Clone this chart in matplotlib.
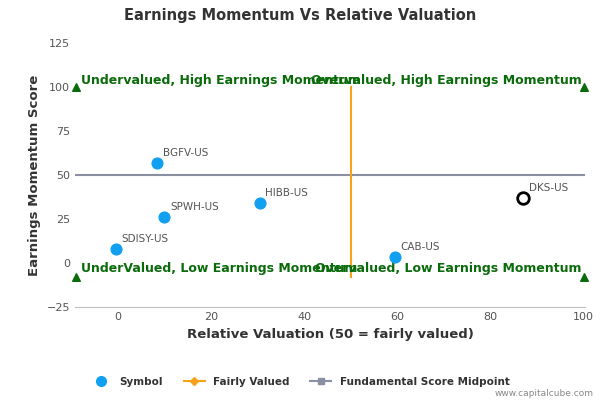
import matplotlib.pyplot as plt
from matplotlib.lines import Line2D

# data
symbols = ["BGFV-US", "SPWH-US", "HIBB-US", "SDISY-US", "CAB-US", "DKS-US"]
valuation = [8.5, 10, 30.5, -0.5, 59.5, 87]
momentum = [57, 26.5, 34, 8, 3.5, 37]
highlight = "DKS-US"
corner_x = [-9, 100, -9, 100]
corner_y = [100, 100, -8, -8]
fair_x = [50, 50]
fair_y = [-8, 100]
mid_x = [-9, 100]
mid_y = [50, 50]
xticks = [0, 20, 40, 60, 80, 100]
yticks = [-25, 0, 25, 50, 75, 100, 125]

fig = plt.figure(figsize=(6, 4), dpi=100)
ax = fig.add_axes([0.125, 0.232, 0.85, 0.66])

ax.plot(mid_x, mid_y, color="#8a8fa3", lw=1.5, zorder=1)
ax.plot(fair_x, fair_y, color="#f7a21b", lw=1.5, zorder=1)
ax.scatter(corner_x, corner_y, marker="^", color="#0a6b0a", s=30, zorder=3, clip_on=False)

for s, x, y in zip(symbols, valuation, momentum):
    if s == highlight:
        ax.scatter(x, y, s=70, facecolor="white", edgecolor="black", lw=2, zorder=4)
    else:
        ax.scatter(x, y, s=60, color="#11a0ef", zorder=4)
    ax.annotate(s, (x, y), xytext=(4, 5), textcoords="offset points",
                fontsize=7.5, color="#555555")

green = "#0a6b0a"
ax.text(-8, 102, "Undervalued, High Earnings Momentum", color=green, fontsize=9, fontweight="bold")
ax.text(99.5, 102, "Overvalued, High Earnings Momentum", color=green, fontsize=9, fontweight="bold", ha="right")
ax.text(-8, -5, "UnderValued, Low Earnings Momentum", color=green, fontsize=9, fontweight="bold")
ax.text(99.5, -5, "Overvalued, Low Earnings Momentum", color=green, fontsize=9, fontweight="bold", ha="right")

ax.set_xlim(-9.2, 100.3)
ax.set_ylim(-25, 125)
ax.set_xticks(xticks)
ax.set_yticks(yticks)
ax.tick_params(labelsize=8, colors="#555555", length=0)
for sp in ["top", "right", "left"]:
    ax.spines[sp].set_visible(False)
ax.spines["bottom"].set_color("#c0c0c0")
ax.set_xlabel("Relative Valuation (50 = fairly valued)", fontsize=9.5, fontweight="bold", color="#333333")
ax.set_ylabel("Earnings Momentum Score", fontsize=9.5, fontweight="bold", color="#333333")
fig.suptitle("Earnings Momentum Vs Relative Valuation", x=0.5, y=0.98, fontsize=10.5, fontweight="bold", color="#333333")

handles = [
    Line2D([], [], marker="o", ls="", color="#11a0ef", markersize=7),
    Line2D([], [], marker="D", color="#f7a21b", markersize=4),
    Line2D([], [], marker="s", color="#8a8fa3", markersize=5),
]
fig.legend(handles, ["Symbol", "Fairly Valued", "Fundamental Score Midpoint"],
           loc="center", bbox_to_anchor=(0.5, 0.045), ncol=3, frameon=False,
           prop={"size": 7.5, "weight": "bold"}, labelcolor="#333333")
fig.text(0.99, 0.01, "www.capitalcube.com", ha="right", fontsize=6.5, color="#888888")

fig.savefig("out.png")
